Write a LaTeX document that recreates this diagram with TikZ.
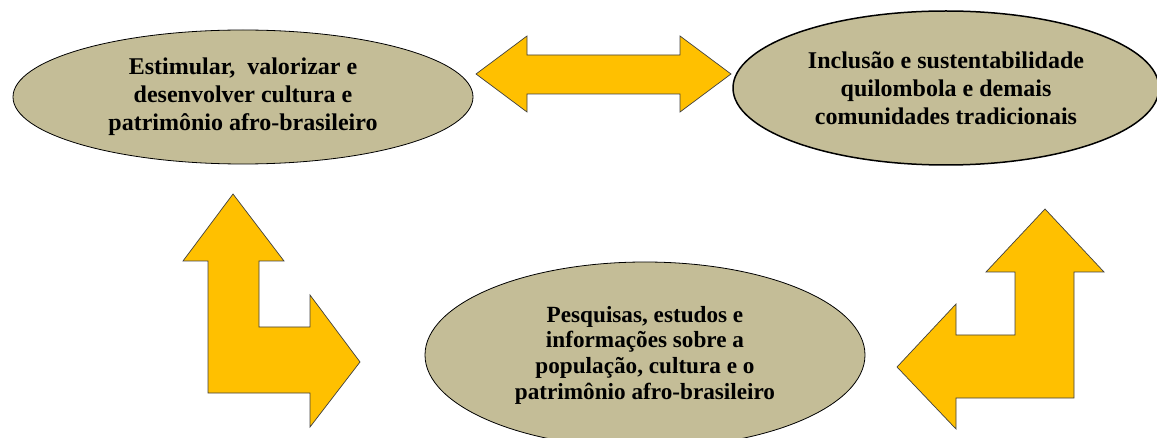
\documentclass[tikz,border=0pt]{standalone}
\usepackage{fontspec}
\setmainfont{Liberation Serif}
\usetikzlibrary{shapes.geometric}
\definecolor{goaltan}{HTML}{C4BD97}
\definecolor{arrowgold}{HTML}{FFC000}

\begin{document}
\begin{tikzpicture}[x=1pt,y=-1pt,
    goal/.style={ellipse,fill=goaltan,draw=black,line width=0.8pt,align=center,inner sep=0pt,
      font=\fontsize{24}{28}\selectfont\bfseries},
    blockarrow/.style={fill=arrowgold,draw=black!75,line width=0.7pt,line join=miter}]
  \clip (0,0) rectangle (1157,438);

  % the three ellipses
  \node[goal,minimum width=460,minimum height=134] (estimular) at (243,97)
    {Estimular,\ \ valorizar e\\desenvolver cultura e\\patrimônio afro-brasileiro};
  \node[goal,line width=1.5pt,minimum width=426,minimum height=154] (inclusao) at (946,88)
    {Inclusão e sustentabilidade\\quilombola e demais\\comunidades tradicionais};
  \node[goal,minimum width=440,minimum height=186,font=\fontsize{23.2}{25.7}\selectfont\bfseries] (pesquisas) at (645,355)
    {Pesquisas, estudos e\\informações sobre a\\população, cultura e o\\patrimônio afro-brasileiro};

  % double arrow between the top ellipses
  \draw[blockarrow] (476,74) -- (527,36) -- (527,55) -- (680,55) -- (680,36) -- (731,74)
    -- (680,112) -- (680,94) -- (527,94) -- (527,112) -- cycle;

  % left bent arrow
  \draw[blockarrow] (233,194) -- (284,261) -- (259,261) -- (259,327) -- (310,327) -- (310,295)
    -- (360,362) -- (310,427) -- (310,393) -- (208,393) -- (208,261) -- (183,261) -- cycle;

  % right bent arrow
  \draw[blockarrow] (1045,209) -- (1104,272) -- (1074,272) -- (1074,398) -- (956,398) -- (956,429)
    -- (897,367) -- (956,304) -- (956,335) -- (1015,335) -- (1015,272) -- (986,272) -- cycle;
\end{tikzpicture}
\end{document}
